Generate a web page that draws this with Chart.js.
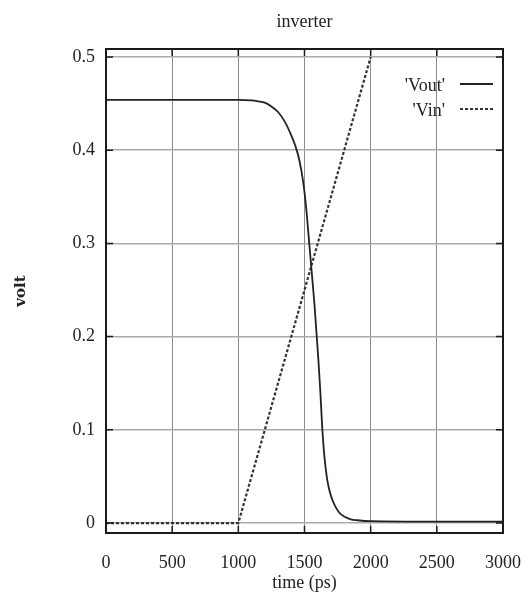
<!DOCTYPE html>
<html>
<head>
<meta charset="utf-8">
<title>inverter</title>
<script src="https://cdn.jsdelivr.net/npm/chart.js"></script>
<style>
  html, body { margin: 0; padding: 0; background: #fff; }
  #wrap { width: 528px; height: 604px; }
</style>
</head>
<body>
<div id="wrap"><canvas id="invChart" width="528" height="604"></canvas></div>
<script>
// --- data ---
const voutTime = [0, 1000, 1100, 1150, 1200, 1250, 1300, 1350, 1400, 1430, 1460, 1490, 1510, 1530, 1545,
  1560, 1575, 1590, 1605, 1620, 1635, 1650, 1670, 1690, 1710, 1740, 1770, 1800, 1850, 1900, 2000, 2500, 3000];
const vout = [0.454, 0.454, 0.4535, 0.4525, 0.451, 0.447, 0.441, 0.431, 0.416, 0.405, 0.390, 0.366, 0.342, 0.310, 0.285,
  0.260, 0.235, 0.205, 0.175, 0.140, 0.100, 0.072, 0.048, 0.034, 0.025, 0.016, 0.010, 0.007, 0.004, 0.003, 0.002, 0.0015, 0.0015];
const vinTime = [0, 1000, 2000];
const vin = [0, 0, 0.5];

const xTicks = [0, 500, 1000, 1500, 2000, 2500, 3000];
const xTickLabels = ['0', '500', '1000', '1500', '2000', '2500', '3000'];
const yTicks = [0, 0.1, 0.2, 0.3, 0.4, 0.5];
const yTickLabels = ['0', '0.1', '0.2', '0.3', '0.4', '0.5'];

const serif = "'Liberation Serif', 'Times New Roman', serif";

// title, frame, inward ticks and the in-plot legend
const decorPlugin = {
  id: 'decor',
  afterDraw(chart) {
    const ctx = chart.ctx;
    const a = chart.chartArea;
    const xs = chart.scales.x, ys = chart.scales.y;
    ctx.save();

    // title
    ctx.fillStyle = '#222';
    ctx.font = '18px ' + serif;
    ctx.textAlign = 'center';
    ctx.textBaseline = 'middle';
    ctx.fillText('inverter', (a.left + a.right) / 2, 22);

    // frame
    ctx.strokeStyle = '#1a1a1a';
    ctx.lineWidth = 2;
    ctx.strokeRect(a.left, a.top, a.right - a.left, a.bottom - a.top);

    // inward ticks on all four sides
    ctx.lineWidth = 1.5;
    ctx.beginPath();
    xTicks.forEach(v => {
      const px = xs.getPixelForValue(v);
      ctx.moveTo(px, a.bottom); ctx.lineTo(px, a.bottom - 7);
      ctx.moveTo(px, a.top); ctx.lineTo(px, a.top + 7);
    });
    yTicks.forEach(v => {
      const py = ys.getPixelForValue(v);
      ctx.moveTo(a.left, py); ctx.lineTo(a.left + 7, py);
      ctx.moveTo(a.right, py); ctx.lineTo(a.right - 7, py);
    });
    ctx.stroke();

    // legend: text, then a line sample
    ctx.font = '18px ' + serif;
    ctx.textAlign = 'right';
    chart.data.datasets.forEach((ds, i) => {
      const y = a.top + 37 + i * 25;
      ctx.fillStyle = '#222';
      ctx.fillText(ds.label, a.right - 58, y);
      ctx.strokeStyle = ds.borderColor;
      ctx.lineWidth = ds.borderWidth;
      ctx.setLineDash(ds.borderDash || []);
      ctx.beginPath();
      ctx.moveTo(a.right - 43, y - 2);
      ctx.lineTo(a.right - 10, y - 2);
      ctx.stroke();
      ctx.setLineDash([]);
    });
    ctx.restore();
  }
};

const ctx = document.getElementById('invChart').getContext('2d');
new Chart(ctx, {
  type: 'line',
  data: {
    datasets: [{
      label: "'Vout'",
      data: voutTime.map((t, i) => ({ x: t, y: vout[i] })),
      borderColor: '#222',
      borderWidth: 1.8,
      pointRadius: 0,
      cubicInterpolationMode: 'monotone',
      fill: false
    }, {
      label: "'Vin'",
      data: vinTime.map((t, i) => ({ x: t, y: vin[i] })),
      borderColor: '#333',
      borderWidth: 2.2,
      borderDash: [3, 2],
      pointRadius: 0,
      fill: false
    }]
  },
  options: {
    responsive: false,
    animation: false,
    events: [],
    layout: { padding: { left: 0, right: 25, top: 49, bottom: 0 } },
    plugins: {
      legend: { display: false },
      title: { display: false },
      tooltip: { enabled: false }
    },
    scales: {
      x: {
        type: 'linear',
        min: 0,
        max: 3000,
        afterFit: s => { s.height = 71; s.paddingLeft = 0; s.paddingRight = 0; },
        afterBuildTicks: s => { s.ticks = xTicks.map(v => ({ value: v })); },
        grid: { color: '#8c8c8c', lineWidth: 1, borderDash: [1, 1.5], drawTicks: false },
        border: { display: false },
        ticks: {
          padding: 19,
          color: '#222',
          font: { family: serif, size: 18 },
          maxRotation: 0,
          callback: (v, i) => xTickLabels[i]
        },
        title: {
          display: true,
          text: 'time (ps)',
          color: '#222',
          font: { family: serif, size: 18 },
          padding: { top: 0, bottom: 10 }
        }
      },
      y: {
        type: 'linear',
        min: -0.0107,
        max: 0.5086,
        afterFit: s => { s.width = 106; s.paddingTop = 0; s.paddingBottom = 0; },
        afterBuildTicks: s => { s.ticks = yTicks.map(v => ({ value: v })); },
        grid: { color: '#aaaaaa', lineWidth: 1.5, drawTicks: false },
        border: { display: false },
        ticks: {
          padding: 11,
          color: '#222',
          font: { family: serif, size: 18 },
          callback: (v, i) => yTickLabels[i]
        },
        title: {
          display: true,
          text: 'volt',
          color: '#222',
          font: { family: "'DejaVu Serif', serif", size: 15, weight: 'bold' },
          padding: { top: 12, bottom: 0 }
        }
      }
    }
  },
  plugins: [decorPlugin]
});
</script>
</body>
</html>
